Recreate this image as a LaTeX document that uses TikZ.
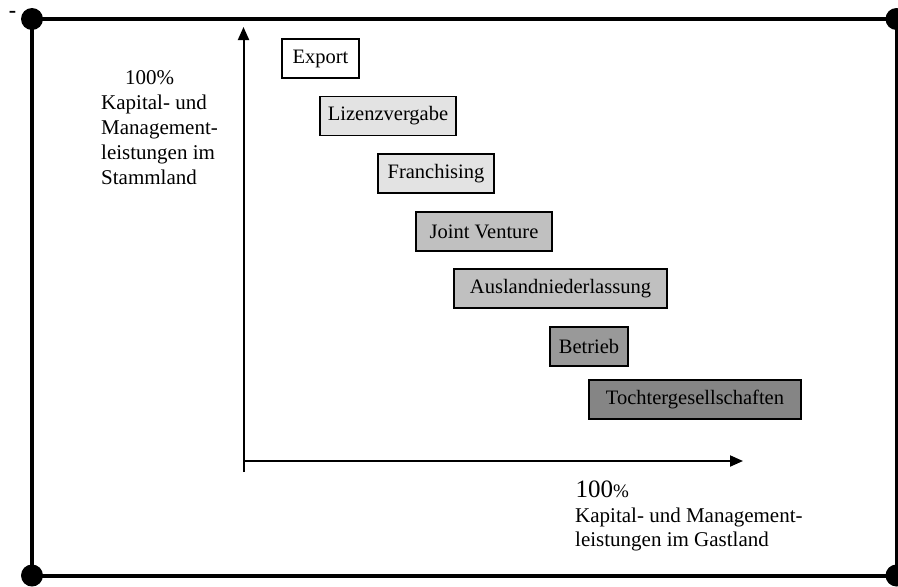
\documentclass[tikz,border=0pt]{standalone}
\usepackage{fontspec}
\setmainfont{Liberation Serif}
\usetikzlibrary{arrows.meta}
\definecolor{fillA}{HTML}{E3E3E3}
\definecolor{fillB}{HTML}{C0C0C0}
\definecolor{fillC}{HTML}{999999}
\definecolor{fillD}{HTML}{858585}
\begin{document}
\begin{tikzpicture}[x=1pt,y=-1pt,
  stagebox/.style={draw=black,line width=1.6pt,inner sep=0pt,minimum height=39pt,
    font=\fontsize{20.5}{24}\selectfont},
  frameline/.style={line width=4pt},
  cornerdot/.style={fill=black},
  axisline/.style={line width=2pt},
  axisarrow/.style={axisline,-{Triangle[length=13pt,width=11pt]}},
  label/.style={inner sep=0pt,align=left,font=\fontsize{21}{25}\selectfont}]
\useasboundingbox (0,0) rectangle (898,587);
% frame
\coordinate (c1) at (32,19);
\coordinate (c2) at (896.5,19);
\coordinate (c3) at (896.5,575.5);
\coordinate (c4) at (32,575.5);
\draw[frameline] (c1) -- (c2) -- (c3) -- (c4) -- cycle;
\foreach \c in {c1,c2,c3,c4} \fill[cornerdot] (\c) circle (11);
\node[inner sep=0pt,font=\bfseries\fontsize{22}{24}\selectfont] (dash) at (12.5,14) {-};
% axes
\coordinate (yb) at (243.5,472);
\coordinate (yt) at (243.5,27);
\coordinate (xs) at (243.5,461);
\coordinate (xt) at (743,461);
\draw[axisarrow] (yb) -- (yt);
\draw[axisarrow] (xs) -- (xt);
% boxes
\node[stagebox,fill=white,minimum width=77pt] (export) at (320.5,58.5) {Export};
\node[stagebox,fill=fillA,minimum width=136pt] (lizenz) at (388,116) {Lizenzvergabe};
\node[stagebox,fill=fillA,minimum width=116pt] (franch) at (436,173.5) {Franchising};
\node[stagebox,fill=fillB,minimum width=136pt] (jv) at (484,231.5) {Joint Venture};
\node[stagebox,fill=fillB,minimum width=213pt] (ausland) at (560.5,288.5) {Auslandniederlassung};
\node[stagebox,fill=fillC,minimum width=78pt] (betrieb) at (589,346.5) {Betrieb};
\node[stagebox,fill=fillD,minimum width=212pt] (tochter) at (695,399.5) {Tochtergesellschaften};
% labels
\node[label,anchor=north west] (ylabel) at (101,70.5)
  {\hspace*{24pt}100\%\\Kapital- und\\Management-\\leistungen im\\Stammland};
\node[inner sep=0pt,anchor=base west,font=\fontsize{25}{28}\selectfont] (xpct) at (575.5,497.5)
  {100{\fontsize{19}{22}\selectfont\%}};
\node[label,anchor=north west,font=\fontsize{21}{24}\selectfont] (xlabel) at (575,508)
  {Kapital- und Management-\\leistungen im Gastland};
\end{tikzpicture}
\end{document}
